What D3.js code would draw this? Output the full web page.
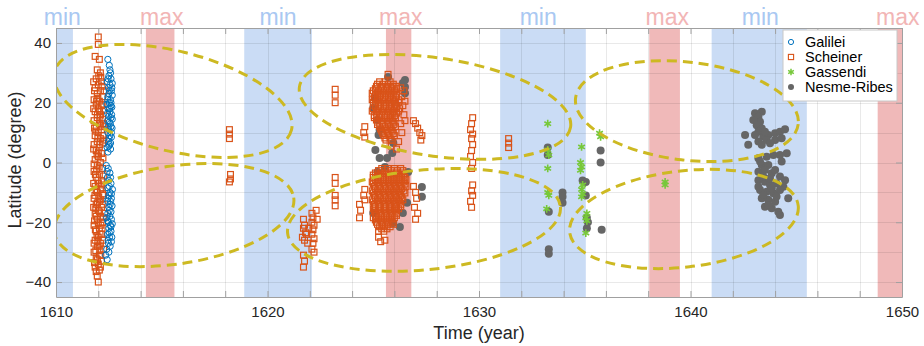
<!DOCTYPE html>
<html>
<head>
<meta charset="utf-8">
<script src="https://cdn.jsdelivr.net/npm/d3@7"></script>
<style>
  html, body { margin: 0; padding: 0; background: #fff; }
  svg { display: block; font-family: "Liberation Sans", Arial, Helvetica, sans-serif; }
</style>
</head>
<body>
<svg id="chart" width="924" height="346"></svg>
<script>
// Solar minimum / maximum periods (years)
const minBands = [[1610.0, 1610.8], [1618.9, 1622.1], [1631.0, 1635.05], [1641.0, 1645.5]];
const maxBands = [[1614.25, 1615.6], [1625.6, 1626.8], [1638.05, 1639.5], [1648.85, 1650.0]];
const minLabelYears = [1610.3, 1620.5, 1632.8, 1643.3];
const maxLabelYears = [1615.0, 1626.3, 1638.9, 1649.8];

const xMajorTicks = [1610, 1620, 1630, 1640, 1650];
const yMajorTicks = [-40, -20, 0, 20, 40];

// Galilei sunspot observations [year, latitude]
const galilei = [
  [1612.45,34.5],[1612.55,31],[1612.5,29],[1612.6,28],[1612.42,27],[1612.55,26],[1612.48,25],[1612.62,24],
  [1612.5,23],[1612.45,22],[1612.58,21],[1612.52,20],[1612.6,19],[1612.47,18],[1612.55,17],[1612.63,16],
  [1612.5,15.5],[1612.44,14],[1612.57,13],[1612.6,12],[1612.5,11],[1612.45,10],[1612.55,9],[1612.62,8.5],
  [1612.48,7],[1612.53,6],[1612.42,5],[1612.58,4.5],[1612.66,22.5],[1612.64,18.5],[1612.4,19.5],[1612.65,11.5],
  [1612.5,5.5],[1612.66,26.5],[1612.66,14.5],
  [1612.52,32.5],[1612.58,30],[1612.46,28],[1612.64,25],[1612.52,24],[1612.44,21],[1612.6,20],[1612.54,18],
  [1612.44,16.5],[1612.6,15],[1612.52,13.5],[1612.46,12],[1612.62,10],[1612.5,8],[1612.58,6.5],[1612.46,3.5],
  [1612.38,-1],[1612.47,-2],[1612.55,-3.5],[1612.43,-5],[1612.5,-6],[1612.6,-7],[1612.45,-8.5],[1612.55,-10],
  [1612.5,-11],[1612.62,-12],[1612.44,-13],[1612.56,-14],[1612.5,-15],[1612.6,-16.5],[1612.45,-17],[1612.55,-18],
  [1612.62,-19],[1612.48,-20],[1612.57,-21],[1612.5,-22],[1612.6,-23],[1612.45,-24],[1612.53,-25],[1612.62,-26.5],
  [1612.48,-27],[1612.4,-29],[1612.35,-31],[1612.42,-32.5],[1612.65,-14.5],[1612.66,-20.5],[1612.4,-18.5],[1612.67,-9],
  [1612.42,-3],[1612.58,-5],[1612.52,-8],[1612.62,-10.5],[1612.46,-12],[1612.58,-13],[1612.52,-16],[1612.44,-19.5],
  [1612.6,-21.5],[1612.52,-23.5],[1612.64,-25],[1612.46,-26],[1612.56,-28],[1612.5,-30]
];

// Scheiner observations [year, latitude]
const scheiner = [
  [1612.0,42],[1612.0,39.5],[1611.85,35.5],[1612.05,34.5],[1611.95,31],[1612.1,30],[1611.9,28],[1612.15,27],
  [1612.0,26],[1611.85,25],[1612.1,24],[1611.95,23],[1612.2,22],[1611.8,21],[1612.05,20.5],[1611.9,19.5],
  [1612.15,19],[1612.0,18],[1611.85,17],[1612.25,17.5],[1612.1,16],[1611.95,15],[1612.2,14.5],[1611.8,14],
  [1612.05,13],[1611.9,12],[1612.15,11],[1612.0,10],[1611.85,9],[1612.1,8],[1611.95,7],[1612.2,6.5],
  [1611.8,6],[1612.05,5],[1611.9,4],[1612.15,3],[1612.0,2],[1611.85,1],[1612.1,0],[1611.95,-1],
  [1612.2,-2],[1611.8,-3],[1612.05,-4],[1611.9,-5],[1612.15,-6],[1612.0,-7],[1611.85,-8],[1612.1,-9],
  [1611.95,-10],[1612.25,-11],[1611.8,-12],[1612.05,-13],[1611.9,-14],[1612.15,-15],[1612.0,-16],[1611.85,-17],
  [1612.1,-18],[1611.95,-19],[1612.2,-20],[1611.8,-21],[1612.05,-22],[1611.9,-23],[1612.15,-24],[1612.0,-25],
  [1611.85,-26],[1612.1,-27],[1611.95,-28],[1612.25,-29],[1611.8,-30],[1612.05,-31],[1611.9,-32],[1612.15,-33],
  [1612.0,-34],[1611.85,-35],[1612.05,-36],[1611.95,-38],[1612.0,-40],
  [1612.12,28.5],[1611.98,21.5],[1612.08,15.5],[1611.88,10.5],[1612.22,9],[1612.0,3.5],[1611.92,-2.5],
  [1612.18,-8.5],[1612.02,-11.5],[1611.88,-15.5],[1612.12,-21],[1611.98,-26.5],[1612.08,-29.5],
  [1612.3,12],[1612.3,-17],[1612.28,24],
  [1611.78,27],[1612.02,29],[1611.82,24],[1612.18,25.5],[1611.92,20.5],[1612.22,19.5],[1611.78,18],[1612.06,17],
  [1611.96,16],[1612.24,13],[1611.82,11.5],[1612.1,12.5],[1611.98,8.5],[1612.26,7.5],[1611.78,4.5],[1612.08,6],
  [1611.94,2.5],[1612.22,1.5],[1611.8,-0.5],[1612.04,-1.5],[1611.86,-4],[1612.24,-4.5],[1611.98,-6],[1611.78,-7],
  [1612.14,-7.5],[1611.9,-9.5],[1612.2,-10.5],[1611.84,-11],[1612.1,-12.5],[1611.96,-13.5],[1612.22,-14],
  [1611.78,-15],[1612.06,-16.5],[1611.9,-18],[1612.24,-18.5],[1611.82,-19.5],[1612.0,-20.5],[1612.18,-22],
  [1611.86,-22.5],[1612.08,-24],[1611.94,-24.5],[1612.2,-26],[1611.8,-27],[1612.04,-28],[1611.88,-29.5],
  [1612.12,-31],[1611.96,-32.5],[1611.82,-33.5],[1612.1,-35],[1611.9,-36.5],
  [1618.2,11],[1618.2,9.5],[1618.2,8],[1618.25,-4],[1618.25,-5.5],[1618.2,-6.5],
  [1621.7,-19],[1621.75,-21],[1621.7,-22],[1621.8,-23.5],[1621.65,-25],[1621.75,-26],[1621.85,-24],
  [1622.1,-17],[1622.15,-18.5],[1622.1,-20],[1622.2,-21],[1622.15,-22.5],[1622.1,-24],[1622.2,-25.5],
  [1622.15,-27],[1622.1,-29],[1622.2,-30],[1621.95,-22],[1621.9,-27],[1621.7,-31],[1621.75,-33],
  [1621.7,-35],[1622.3,-16],[1622.35,-19],
  [1623.2,24.5],[1623.2,22.5],[1623.2,20],[1623.2,-5],[1623.2,-7],[1623.2,-11],[1623.2,-12.5],[1623.2,-14.5],
  [1624.35,-14],[1624.4,-16],[1624.35,-18.5],[1624.6,12],[1624.55,10],[1624.6,8.5],
  [1624.6,-9],[1624.55,-11],[1624.6,-12.5],
  [1626.3,25],[1626.35,22],[1626.4,19],[1626.45,16],[1626.3,13],[1626.35,10],[1626.2,7],[1626.1,4.5],
  [1625.85,5.5],[1626.5,20.5],[1626.45,24],[1626.5,14],[1625.7,29.5],
  [1626.9,14],[1627.0,13],[1627.1,11.5],[1627.2,10],[1627.3,9],[1627.25,7.5],
  [1626.9,-8],[1627.0,-10],[1627.05,-12],[1626.95,-15],[1627.1,-17],[1627.0,-19],
  [1625.25,-25],[1625.35,-26.5],[1625.55,-26],
  [1629.7,15],[1629.65,13],[1629.6,11],[1629.7,9.5],[1629.65,8],[1629.7,6],[1629.65,4],[1629.6,2],
  [1629.7,0],[1629.65,-2],[1629.7,-7.5],[1629.65,-9.5],[1629.7,-11],[1629.6,-13],[1629.65,-15],
  [1631.4,8],[1631.4,6.5],[1631.4,5]
];

// Scheiner's dense 1625-1626 records, one row per latitude: [latitude, [years]]
const scheinerCore = [
  [27,   [1625.3, 1625.55, 1625.8]],
  [26.2, [1625.2, 1625.45, 1625.7, 1625.95]],
  [25.5, [1625.15, 1625.4, 1625.65, 1625.9, 1626.1]],
  [24.7, [1625.1, 1625.35, 1625.6, 1625.85, 1626.1]],
  [24,   [1625.0, 1625.25, 1625.5, 1625.75, 1626.0]],
  [23.2, [1624.95, 1625.2, 1625.45, 1625.7, 1625.95]],
  [22.5, [1625.1, 1625.35, 1625.6, 1625.85, 1626.1]],
  [21.7, [1625.05, 1625.3, 1625.55, 1625.8, 1626.05]],
  [21,   [1624.95, 1625.2, 1625.45, 1625.7, 1625.95, 1626.2]],
  [20.2, [1625.0, 1625.25, 1625.5, 1625.75, 1626.0, 1626.2]],
  [19.5, [1625.1, 1625.35, 1625.6, 1625.85, 1626.05]],
  [18.7, [1625.1, 1625.35, 1625.6, 1625.85, 1626.1]],
  [18,   [1625.0, 1625.25, 1625.5, 1625.75, 1626.0, 1626.25]],
  [17.2, [1624.95, 1625.2, 1625.45, 1625.7, 1625.95, 1626.2]],
  [16.5, [1625.15, 1625.4, 1625.65, 1625.9, 1626.1]],
  [15.7, [1625.05, 1625.3, 1625.55, 1625.8, 1626.0]],
  [15,   [1625.05, 1625.3, 1625.55, 1625.8, 1626.05]],
  [14.2, [1625.15, 1625.4, 1625.65, 1625.9]],
  [13.5, [1625.2, 1625.45, 1625.7, 1625.95]],
  [12.7, [1625.2, 1625.45, 1625.7, 1625.95]],
  [12,   [1625.3, 1625.55, 1625.8, 1626.05]],
  [11.2, [1625.35, 1625.6, 1625.85]],
  [10.5, [1625.4, 1625.65, 1625.9]],
  [9.7,  [1625.45, 1625.7, 1625.95]],
  [9,    [1625.5, 1625.75, 1626.0]],
  [8.2,  [1625.55, 1625.8]],
  [7.5,  [1625.6, 1625.85]],
  [-2,   [1625.4, 1625.7, 1626.0, 1626.3]],
  [-2.7, [1625.25, 1625.55, 1625.85, 1626.15, 1626.4]],
  [-3.5, [1625.1, 1625.35, 1625.6, 1625.85, 1626.1, 1626.35]],
  [-4.2, [1625.0, 1625.2, 1625.45, 1625.7, 1625.95, 1626.2, 1626.45]],
  [-5,   [1625.0, 1625.25, 1625.5, 1625.75, 1626.0, 1626.25, 1626.5]],
  [-5.7, [1625.1, 1625.35, 1625.6, 1625.85, 1626.1, 1626.35, 1626.55]],
  [-6.5, [1624.95, 1625.2, 1625.45, 1625.7, 1625.95, 1626.2, 1626.45]],
  [-7.2, [1625.0, 1625.25, 1625.5, 1625.75, 1626.0, 1626.25, 1626.5]],
  [-8,   [1625.05, 1625.3, 1625.55, 1625.8, 1626.05, 1626.3, 1626.55]],
  [-8.7, [1625.1, 1625.35, 1625.6, 1625.85, 1626.1, 1626.35]],
  [-9.5, [1624.95, 1625.2, 1625.45, 1625.7, 1625.95, 1626.2, 1626.45]],
  [-10.2,[1625.0, 1625.25, 1625.5, 1625.75, 1626.0, 1626.25, 1626.5]],
  [-11,  [1625.05, 1625.3, 1625.55, 1625.8, 1626.05, 1626.3]],
  [-11.7,[1625.1, 1625.35, 1625.6, 1625.85, 1626.1, 1626.35]],
  [-12.5,[1624.95, 1625.2, 1625.45, 1625.7, 1625.95, 1626.2, 1626.4]],
  [-13.2,[1625.0, 1625.25, 1625.5, 1625.75, 1626.0, 1626.25]],
  [-14,  [1625.05, 1625.3, 1625.55, 1625.8, 1626.05, 1626.3]],
  [-14.7,[1625.1, 1625.35, 1625.6, 1625.85, 1626.1, 1626.3]],
  [-15.5,[1625.0, 1625.25, 1625.5, 1625.75, 1626.0, 1626.2]],
  [-16.2,[1625.05, 1625.3, 1625.55, 1625.8, 1626.05]],
  [-17,  [1625.1, 1625.35, 1625.6, 1625.85, 1626.1]],
  [-17.7,[1625.15, 1625.4, 1625.65, 1625.9, 1626.1]],
  [-18.5,[1625.0, 1625.25, 1625.5, 1625.75, 1626.0]],
  [-19.2,[1625.1, 1625.35, 1625.6, 1625.85]],
  [-20,  [1625.15, 1625.4, 1625.65, 1625.9]],
  [-20.7,[1625.2, 1625.45, 1625.7, 1625.95]],
  [-21.5,[1625.3, 1625.55, 1625.8]],
  [-22.2,[1625.4, 1625.65]],
  [-23,  [1625.25, 1625.5]]
];

// Gassendi observations [year, latitude]
const gassendi = [
  [1633.25,13],[1633.25,4.2],[1633.3,2.5],[1633.25,-2],[1633.25,-10],[1633.3,-11],[1633.2,-15.5],
  [1634.85,5.2],[1634.8,0],[1634.85,-1.5],[1634.8,-2.6],[1634.9,-7.5],[1634.85,-9],[1634.9,-10.5],
  [1634.85,-11.5],[1635.1,-17],[1635.05,-18.5],[1635.1,-19.5],[1635.05,-23.6],[1635.7,9.8],[1635.75,8.6],
  [1638.8,-6.5],[1638.8,-7.5]
];

// Nesme-Ribes compilation [year, latitude]
const nesmeRibes = [
  [1625.7,28.6],[1626.5,27.6],[1626.5,25.3],[1626.4,26.6],[1626.5,23.2],[1625.0,18.2],[1625.2,14.2],
  [1625.25,9.2],[1625.1,4.2],[1625.3,1.5],[1625.65,1.5],[1625.55,-1.5],[1625.2,-3.2],[1626.65,-3.2],
  [1627.3,-8.2],[1627.3,-11.5],[1626.6,-13.5],[1626.4,-16.9],[1626.26,-21.6],[1625.94,-20.2],
  [1625.0,-16.9],[1625.9,3.2],[1625.95,6.5],[1625.3,10.9],[1625.1,21.6],
  [1633.25,5],[1633.25,2.5],[1633.3,-16.5],[1633.3,-29],[1633.3,-30.5],[1633.95,-10],[1633.95,-11.5],
  [1633.95,-13.5],[1634.9,-6],[1635.05,-6.5],[1635.05,-11],[1635.1,-18.5],[1635.15,-20],[1635.1,-22],
  [1635.75,4],[1635.75,0],[1635.8,-22.5],
  [1643.05,16.5],[1643.37,17],[1643.21,15.3],[1643.29,13.6],[1643.13,12.5],[1643.37,11.4],[1643.21,10.3],
  [1642.58,9.2],[1643.05,9.2],[1643.44,8.6],[1643.68,9.2],[1644.0,9.8],[1644.23,10.3],[1644.47,11.1],
  [1643.6,7.5],[1643.21,7],[1642.73,5.9],[1644.0,7.5],[1644.31,8.1],[1643.37,5.9],[1643.76,6.4],
  [1642.97,14.2],[1643.52,10.3],
  [1643.21,1.4],[1643.6,1.9],[1643.92,2.5],[1644.23,2.5],[1644.55,3.1],[1643.37,-0.8],[1643.68,-0.8],
  [1644.31,0.3],[1643.21,-3.1],[1643.52,-2.5],[1643.84,-3.6],[1644.23,-4.7],[1644.47,-5.9],[1643.21,-5.9],
  [1643.52,-6.4],[1643.76,-7.5],[1644.07,-7],[1644.39,-8.1],[1643.29,-9.2],[1643.6,-9.8],[1643.92,-10.3],
  [1644.23,-9.2],[1644.62,-12],[1643.37,-12],[1643.68,-12.5],[1644.0,-13.1],[1643.52,-14.8],[1643.84,-15.3],
  [1644.15,-16.5],[1644.23,-17.6],[1643.21,-8.1],[1643.44,-4.7],[1643.76,-5.3],[1644.0,-2.5],
  [1643.44,-10.9],[1643.84,-8.6],[1643.29,0.3],[1644.07,-11.4],[1643.68,-14.2]
];

// Butterfly-wing outlines: centre (year, latitude), semi-axes (years, degrees), tilt (deg)
const wingYears = [1615.53, 1615.58, 1627.92, 1627.40, 1639.83, 1639.69];
const wingLats  = [20.6, -17.6, 18.6, -19.2, 17.2, -18.9];
const wingSpanYears = [5.77, 5.72, 6.48, 6.48, 5.30, 5.44];
const wingSpanLats  = [16.7, 16.4, 16.4, 16.7, 16.4, 16.1];
const wingTilts = [13.75, -8.3, 8.4, -5.5, 6.7, -6.7];

const seriesNames = ["Galilei", "Scheiner", "Gassendi", "Nesme-Ribes"];

// ---------- layout ----------
const svg = d3.select("#chart");
const margin = { left: 56, right: 22, top: 28, bottom: 49 };
const W = 924, H = 346;
const x = d3.scaleLinear().domain([1610, 1650]).range([margin.left, W - margin.right]);
const y = d3.scaleLinear().domain([-45, 45]).range([H - margin.bottom, margin.top]);
const [x0, x1] = x.range();
const [y0, y1] = [y(45), y(-45)];

const colors = {
  galilei: "#0072bd", scheiner: "#d95319", gassendi: "#77c83a", nesme: "#666666",
  minBand: "#cadcf5", maxBand: "#f0b9b9", minText: "#a9c8f2", maxText: "#f2b5b5", wing: "#cdb922"
};

svg.append("defs").append("clipPath").attr("id", "plotClip")
  .append("rect").attr("x", x0).attr("y", y0).attr("width", x1 - x0).attr("height", y1 - y0);

// Period bands
const bands = svg.append("g");
bands.selectAll("rect.min").data(minBands).join("rect")
  .attr("x", d => x(d[0])).attr("width", d => x(d[1]) - x(d[0]))
  .attr("y", y0).attr("height", y1 - y0).attr("fill", colors.minBand);
bands.selectAll("rect.max").data(maxBands).join("rect")
  .attr("x", d => x(d[0])).attr("width", d => x(d[1]) - x(d[0]))
  .attr("y", y0).attr("height", y1 - y0).attr("fill", colors.maxBand);

// Grid
const grid = svg.append("g").attr("stroke", "#000").attr("stroke-opacity", 0.085).attr("stroke-width", 1);
grid.selectAll("line.v").data(d3.range(1612, 1650, 2)).join("line")
  .attr("x1", d => Math.round(x(d)) + 0.5).attr("x2", d => Math.round(x(d)) + 0.5)
  .attr("y1", y0).attr("y2", y1);
grid.selectAll("line.h").data(d3.range(-40, 41, 10)).join("line")
  .attr("y1", d => Math.round(y(d)) + 0.5).attr("y2", d => Math.round(y(d)) + 0.5)
  .attr("x1", x0).attr("x2", x1);

// min / max labels above the axes
const labels = svg.append("g").attr("font-size", 23).attr("text-anchor", "middle");
labels.selectAll("text.min").data(minLabelYears).join("text")
  .attr("x", d => x(d)).attr("y", 25).attr("fill", colors.minText).text("min");
labels.selectAll("text.max").data(maxLabelYears).join("text")
  .attr("x", d => x(d)).attr("y", 25).attr("fill", colors.maxText).text("max");

// Observations
const plot = svg.append("g").attr("clip-path", "url(#plotClip)");
const scheinerAll = scheiner.concat(scheinerCore.flatMap(([lat, ys]) => ys.map(yr => [yr, lat])));
const sq = 5.8;

plot.append("g").selectAll("circle").data(nesmeRibes).join("circle")
  .attr("cx", d => x(d[0])).attr("cy", d => y(d[1])).attr("r", 4)
  .attr("fill", colors.nesme);

plot.append("g").selectAll("rect").data(scheinerAll).join("rect")
  .attr("x", d => x(d[0]) - sq / 2).attr("y", d => y(d[1]) - sq / 2)
  .attr("width", sq).attr("height", sq)
  .attr("fill", "none").attr("stroke", colors.scheiner).attr("stroke-width", 1.2);

plot.append("g").selectAll("circle").data(galilei).join("circle")
  .attr("cx", d => x(d[0])).attr("cy", d => y(d[1])).attr("r", 3.1)
  .attr("fill", "none").attr("stroke", colors.galilei).attr("stroke-width", 1);

const star = d3.symbol(d3.symbolAsterisk, 42);
plot.append("g").selectAll("path").data(gassendi).join("path")
  .attr("transform", d => `translate(${x(d[0])},${y(d[1])})`)
  .attr("d", star).attr("fill", "none").attr("stroke", colors.gassendi).attr("stroke-width", 1.6);

// Wing outlines
const wingIdx = d3.range(wingYears.length);
plot.append("g").selectAll("ellipse").data(wingIdx).join("ellipse")
  .attr("cx", i => x(wingYears[i])).attr("cy", i => y(wingLats[i]))
  .attr("rx", i => x(wingYears[i] + wingSpanYears[i]) - x(wingYears[i]))
  .attr("ry", i => y(0) - y(wingSpanLats[i]))
  .attr("transform", i => `rotate(${wingTilts[i]},${x(wingYears[i])},${y(wingLats[i])})`)
  .attr("fill", "none").attr("stroke", colors.wing).attr("stroke-width", 3)
  .attr("stroke-dasharray", "10,6");

// Axes
const axisColor = "#a0a0a0";
function styleAxis(g) {
  g.select(".domain").attr("stroke", axisColor);
  g.selectAll(".tick line").attr("stroke", axisColor);
  g.selectAll(".tick text").attr("fill", "#262626").attr("font-size", 15)
    .attr("font-family", "'Liberation Sans', Arial, sans-serif");
}
const xTickVals = d3.range(1610, 1651, 2);
svg.append("g").attr("transform", `translate(0,${y1})`)
  .call(d3.axisBottom(x).tickValues(xTickVals).tickSize(-6).tickSizeOuter(0).tickPadding(9)
    .tickFormat(d => xMajorTicks.includes(d) ? d3.format("d")(d) : ""))
  .call(styleAxis);
svg.append("g").attr("transform", `translate(0,${y0})`)
  .call(d3.axisTop(x).tickValues(xTickVals).tickSize(-6).tickSizeOuter(0).tickFormat(""))
  .call(styleAxis);
svg.append("g").attr("transform", `translate(${x0},0)`)
  .call(d3.axisLeft(y).tickValues(yMajorTicks).tickSize(-6).tickSizeOuter(0).tickPadding(5)
    .tickFormat(d3.format("d")))
  .call(styleAxis);
svg.append("g").attr("transform", `translate(${x1},0)`)
  .call(d3.axisRight(y).tickValues(yMajorTicks).tickSize(-6).tickSizeOuter(0).tickFormat(""))
  .call(styleAxis);

// Axis titles
svg.append("text").attr("x", (x0 + x1) / 2).attr("y", 339).attr("text-anchor", "middle")
  .attr("font-size", 18).attr("fill", "#262626").text("Time (year)");
svg.append("text").attr("transform", "translate(21,160) rotate(-90)").attr("text-anchor", "middle")
  .attr("font-size", 18).attr("fill", "#262626").text("Latitude (degree)");

// Legend
const lg = svg.append("g").attr("transform", "translate(783,30)");
lg.append("rect").attr("width", 114).attr("height", 71)
  .attr("fill", "#fff").attr("stroke", "#c8c8c8").attr("stroke-width", 1);
const rowY = i => 12 + i * 15;
const mx = 8;
lg.append("circle").attr("cx", mx).attr("cy", rowY(0)).attr("r", 2.6)
  .attr("fill", "none").attr("stroke", colors.galilei).attr("stroke-width", 1);
lg.append("rect").attr("x", mx - 2.6).attr("y", rowY(1) - 2.6).attr("width", 5.2).attr("height", 5.2)
  .attr("fill", "none").attr("stroke", colors.scheiner).attr("stroke-width", 1.1);
lg.append("path").attr("transform", `translate(${mx},${rowY(2)})`).attr("d", d3.symbol(d3.symbolAsterisk, 30))
  .attr("fill", "none").attr("stroke", colors.gassendi).attr("stroke-width", 1.5);
lg.append("circle").attr("cx", mx).attr("cy", rowY(3)).attr("r", 3).attr("fill", colors.nesme);
lg.selectAll("text").data(seriesNames).join("text")
  .attr("x", 22).attr("y", (d, i) => rowY(i)).attr("dy", "0.36em")
  .attr("font-size", 14.5).attr("fill", "#000").text(d => d);
</script>
</body>
</html>
